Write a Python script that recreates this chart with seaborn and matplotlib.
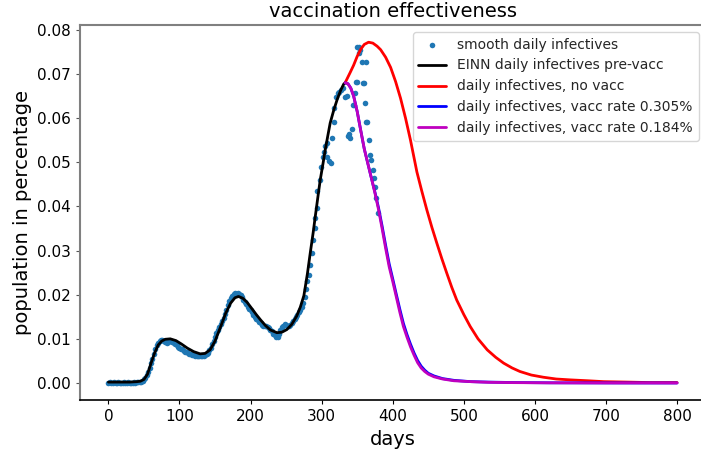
import numpy as np
import pandas as pd
import matplotlib
matplotlib.use("Agg")
import matplotlib.pyplot as plt
import seaborn as sns

# --------------------------------
# DATA
# --------------------------------

# smooth daily infectives (dots)
dot_days = [
    0, 2, 4, 6, 8, 10, 12, 14, 16, 18, 20, 22, 24, 26, 28, 30, 32, 34, 36, 38,
    40, 42, 44, 46, 48, 50, 52, 54, 56, 58, 60, 62, 64, 66, 68, 70, 72, 74, 76,
    78, 80, 82, 84, 86, 88, 90, 92, 94, 96, 98, 100, 102, 104, 106, 108, 110,
    112, 114, 116, 118, 120, 122, 124, 126, 128, 130, 132, 134, 136, 138, 140,
    142, 144, 146, 148, 150, 152, 154, 156, 158, 160, 162, 164, 166, 168, 170,
    172, 174, 176, 178, 180, 182, 184, 186, 188, 190, 192, 194, 196, 198, 200,
    202, 204, 206, 208, 210, 212, 214, 216, 218, 220, 222, 224, 226, 228, 230,
    232, 234, 236, 238, 240, 242, 244, 246, 248, 250, 252, 254, 256, 258, 260,
    262, 264, 266, 268, 270, 272, 274, 276, 278, 280,
    282, 284, 286, 288, 290, 291, 293, 294, 297, 299, 302, 303, 305, 307,
    308, 311, 313, 315, 317, 318, 320, 323, 325, 327, 330, 333, 336, 337,
    338, 340, 343, 344, 345, 347, 348, 350, 350, 352, 353, 354, 357, 358,
    359, 361, 362, 363, 364, 366, 368, 370, 372, 373, 375, 377, 379,
]
dot_values = [
    0.0001, 0.0002, 0.0001, 0.0001, 0.0002, 0.0001, 0.0001, 0.0002, 0.0001,
    0.0001, 0.0001, 0.0002, 0.0001, 0.0001, 0.0002, 0.0001, 0.0001, 0.0001,
    0.0002, 0.0001, 0.0002, 0.0002, 0.0002, 0.0003, 0.0005, 0.0008, 0.0012,
    0.0018, 0.0025, 0.0035, 0.0045, 0.0055, 0.0066, 0.0076, 0.0085, 0.0091,
    0.0095, 0.0097, 0.0098, 0.0096, 0.0092, 0.0091, 0.0093, 0.0095, 0.0094,
    0.0092, 0.0090, 0.0088, 0.0085, 0.0082, 0.0080, 0.0078, 0.0076, 0.0073,
    0.0071, 0.0070, 0.0068, 0.0066, 0.0065, 0.0064, 0.0063, 0.0062, 0.0062,
    0.0061, 0.0060, 0.0061, 0.0062, 0.0062, 0.0064, 0.0066, 0.0069, 0.0074,
    0.0080, 0.0088, 0.0096, 0.0104, 0.0113, 0.0120, 0.0126, 0.0133, 0.0140,
    0.0148, 0.0157, 0.0166, 0.0177, 0.0186, 0.0193, 0.0198, 0.0201, 0.0203,
    0.0202, 0.0204, 0.0201, 0.0199, 0.0195, 0.0189, 0.0183, 0.0178, 0.0172,
    0.0168, 0.0165, 0.0160, 0.0155, 0.0150, 0.0146, 0.0142, 0.0138, 0.0135,
    0.0132, 0.0130, 0.0130, 0.0128, 0.0127, 0.0125, 0.0121, 0.0117, 0.0112,
    0.0108, 0.0105, 0.0104, 0.0110, 0.0120, 0.0126, 0.0130, 0.0133, 0.0132,
    0.0129, 0.0128, 0.0131, 0.0136, 0.0140, 0.0145, 0.0150, 0.0155, 0.0160,
    0.0165, 0.0172, 0.0182, 0.0195, 0.0212, 0.0230,
    0.0245, 0.0267, 0.0294, 0.0324, 0.0351, 0.0373, 0.0396, 0.0434, 0.0460,
    0.0490, 0.0513, 0.0524, 0.0536, 0.0543, 0.0513, 0.0502, 0.0498, 0.0555,
    0.0592, 0.0623, 0.0649, 0.0657, 0.0660, 0.0664, 0.0668, 0.0649, 0.0651,
    0.0560, 0.0564, 0.0555, 0.0575, 0.0630, 0.0630, 0.0658, 0.0683, 0.0683,
    0.0762, 0.0762, 0.0747, 0.0755, 0.0728, 0.0679, 0.0679, 0.0634, 0.0728,
    0.0592, 0.0592, 0.0551, 0.0517, 0.0505, 0.0483, 0.0464, 0.0445, 0.0419,
    0.0385,
]

# EINN daily infectives pre-vacc
einn_days = [
    0, 10, 20, 30, 40, 45, 50, 55, 60, 65, 70, 75, 80, 87, 95, 103, 111, 120,
    129, 136, 143, 150, 158, 165, 172, 178, 183, 189, 195, 202, 208, 214, 221,
    228, 237, 244, 251, 258, 265, 270, 275, 280, 284, 288, 291, 295, 298, 302,
    305, 309, 312, 317, 322, 327, 331, 333,
]
einn_values = [
    0.0002, 0.0002, 0.0002, 0.0002, 0.0003, 0.0004, 0.0008, 0.0020, 0.0045,
    0.0068, 0.0086, 0.0095, 0.0099, 0.0100, 0.0096, 0.0088, 0.0079, 0.0071,
    0.0066, 0.0067, 0.0075, 0.0095, 0.0128, 0.0158, 0.0181, 0.0193, 0.0196,
    0.0192, 0.0183, 0.0168, 0.0155, 0.0143, 0.0130, 0.0120, 0.0114, 0.0115,
    0.0121, 0.0133, 0.0152, 0.0172, 0.0198, 0.0248, 0.0295, 0.0340, 0.0377,
    0.0425, 0.0460, 0.0498, 0.0528, 0.0563, 0.0589, 0.0618, 0.0643, 0.0664,
    0.0677, 0.0680,
]

# daily infectives, no vacc
novacc_days = [
    333, 340, 345, 350, 355, 360, 366, 372, 378, 383, 390, 397, 404, 411, 418,
    425, 434, 441, 448, 455, 462, 469, 476, 483, 490, 500, 509, 520, 533, 545,
    556, 568, 579, 595, 612, 630, 650, 675, 697, 730, 760, 800,
]
novacc_values = [
    0.0680, 0.0703, 0.0720, 0.0740, 0.0756, 0.0767, 0.0772, 0.0770, 0.0763,
    0.0755, 0.0738, 0.0715, 0.0683, 0.0645, 0.0600, 0.0550, 0.0478, 0.0434,
    0.0392, 0.0353, 0.0317, 0.0282, 0.0249, 0.0217, 0.0188, 0.0155, 0.0128,
    0.0100, 0.0075, 0.0058, 0.0045, 0.0034, 0.0026, 0.0018, 0.0013, 0.0009,
    0.0007, 0.0005, 0.0003, 0.0002, 0.0001, 0.0001,
]

# daily infectives with vaccination
vacc_days = [
    333, 337, 341, 345, 350, 355, 360, 365, 370, 375, 380, 385, 390, 395, 400,
    405, 410, 415, 420, 425, 430, 435, 440, 445, 450, 458, 470, 486, 510, 535,
    570, 620, 700, 800,
]
vacc305_values = [
    0.0680, 0.0678, 0.0668, 0.0650, 0.0615, 0.0572, 0.0530, 0.0497, 0.0464,
    0.0432, 0.0397, 0.0356, 0.0312, 0.0270, 0.0236, 0.0201, 0.0167, 0.0135,
    0.0110, 0.0088, 0.0068, 0.0051, 0.0038, 0.0029, 0.0022, 0.0016, 0.0010,
    0.0006, 0.0003, 0.0002, 0.0001, 0.00004, 0.00001, 0.0,
]
vacc184_values = [
    0.0680, 0.0678, 0.0668, 0.0650, 0.0615, 0.0572, 0.0530, 0.0497, 0.0464,
    0.0430, 0.0393, 0.0350, 0.0305, 0.0263, 0.0230, 0.0195, 0.0160, 0.0128,
    0.0104, 0.0082, 0.0063, 0.0046, 0.0034, 0.0026, 0.0020, 0.0014, 0.0009,
    0.0005, 0.0003, 0.00015, 0.00008, 0.00003, 0.00001, 0.0,
]

# --------------------------------
# STYLE
# --------------------------------

sns.set_style("ticks")
plt.rcParams["font.family"] = ["DejaVu Sans"]

fig = plt.figure(figsize=(7.01, 4.58), dpi=100)
ax = fig.add_axes([0.1141, 0.1266, 0.8923, 0.8188])

# --------------------------------
# PLOT
# --------------------------------

sns.scatterplot(
    x=dot_days, y=dot_values, ax=ax,
    color="#1f77b4", s=16, linewidth=0,
    label="smooth daily infectives"
)

sns.lineplot(
    x=einn_days, y=einn_values, ax=ax,
    color="black", linewidth=2,
    label="EINN daily infectives pre-vacc"
)

sns.lineplot(
    x=novacc_days, y=novacc_values, ax=ax,
    color="red", linewidth=2,
    label="daily infectives, no vacc"
)

sns.lineplot(
    x=vacc_days, y=vacc305_values, ax=ax,
    color="blue", linewidth=2,
    label="daily infectives, vacc rate 0.305%"
)

sns.lineplot(
    x=vacc_days, y=vacc184_values, ax=ax,
    color="m", linewidth=2,
    label="daily infectives, vacc rate 0.184%"
)

ax.set_xlim(-40, 840)
ax.set_ylim(-0.00386, 0.0811)
ax.set_xticks([0, 100, 200, 300, 400, 500, 600, 700, 800])
ax.set_yticks([0.0, 0.01, 0.02, 0.03, 0.04, 0.05, 0.06, 0.07, 0.08])
ax.set_yticklabels(["0.00", "0.01", "0.02", "0.03", "0.04",
                    "0.05", "0.06", "0.07", "0.08"])

ax.set_title("vaccination effectiveness", fontsize=14, color="black")
ax.set_xlabel("days", fontsize=14, color="black")
ax.set_ylabel("population in percentage", fontsize=14, color="black")

ax.tick_params(axis="both", labelsize=11, length=3, labelcolor="black")
ax.tick_params(axis="x", color="black")
ax.tick_params(axis="y", color="#555555")

for side in ["left", "top"]:
    ax.spines[side].set_color("#808080")
    ax.spines[side].set_linewidth(1.5)
ax.spines["bottom"].set_color("black")
ax.spines["bottom"].set_linewidth(1.2)
ax.spines["right"].set_visible(False)

ax.legend(loc="upper right", fontsize=10, frameon=True)

fig.savefig("out.png", dpi=100)
